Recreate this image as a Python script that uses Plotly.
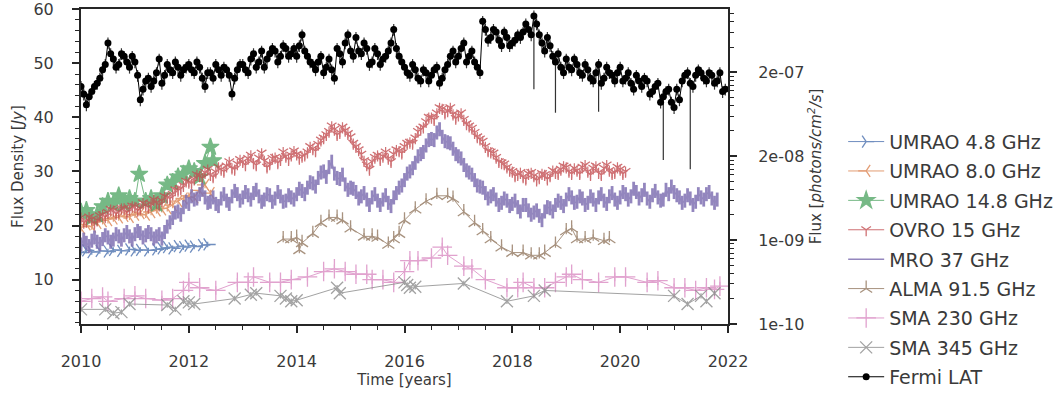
import numpy as np
import plotly.graph_objects as go

# ---------------- data ----------------
# UMRAO 4.8 GHz
umrao48_t = [2010.0, 2010.1, 2010.2, 2010.35, 2010.5, 2010.6, 2010.75, 2010.9, 2011.0, 2011.1,
             2011.25, 2011.4, 2011.5, 2011.6, 2011.7, 2011.8, 2011.9, 2012.0, 2012.1, 2012.25, 2012.35]
umrao48_f = [15.0, 15.4, 15.1, 15.3, 15.2, 15.5, 15.3, 15.6, 15.4, 15.5,
             15.4, 15.6, 15.8, 16.0, 15.8, 16.2, 16.0, 16.3, 16.1, 16.4, 16.5]

# UMRAO 8.0 GHz
umrao80_t = [2010.0, 2010.1, 2010.2, 2010.3, 2010.4, 2010.5, 2010.6, 2010.7, 2010.8, 2010.9,
             2011.0, 2011.1, 2011.2, 2011.3, 2011.4, 2011.5, 2011.6, 2011.7, 2011.8, 2011.9,
             2012.0, 2012.1, 2012.2, 2012.3, 2012.4]
umrao80_f = [19.5, 20.2, 19.8, 20.5, 20.8, 21.0, 21.3, 21.5, 21.8, 21.6,
             22.0, 22.3, 22.0, 22.5, 22.8, 23.0, 23.2, 23.8, 24.5, 25.0,
             25.5, 25.2, 26.5, 27.5, 26.0]

# UMRAO 14.8 GHz
umrao148_t = [2010.0, 2010.1, 2010.2, 2010.3, 2010.4, 2010.5, 2010.6, 2010.7, 2010.8, 2010.9,
              2011.0, 2011.08, 2011.2, 2011.3, 2011.4, 2011.5, 2011.6, 2011.7, 2011.8, 2011.9,
              2012.0, 2012.1, 2012.2, 2012.3, 2012.4, 2012.45]
umrao148_f = [22.5, 22.8, 21.5, 22.0, 23.5, 24.5, 24.0, 25.5, 24.0, 25.0,
              24.5, 29.5, 24.5, 25.0, 24.0, 25.5, 27.5, 28.0, 29.0, 29.5,
              30.5, 30.0, 29.0, 31.5, 34.5, 32.0]

# OVRO 15 GHz: values every 0.1 yr from 2010.0, and the in-between readings (2010.05, 2010.15, ...)
ovro_start = 2010.0
ovro_f = [21.5, 20.8, 21.2, 21.0, 22.0, 22.4, 22.8, 22.5, 23.2, 23.0,
          23.5, 23.2, 23.8, 24.0, 24.2, 24.6, 25.2, 25.8, 26.5, 27.4,
          28.0, 28.6, 29.2, 29.8, 29.4, 29.9, 30.4, 31.0, 30.6, 31.4,
          31.8, 32.4, 31.6, 32.5, 32.0, 31.4, 32.6, 32.2, 32.8, 33.0,
          33.2, 32.8, 33.6, 34.2, 35.0, 36.2, 37.4, 37.8, 37.2, 37.6,
          36.4, 34.6, 33.2, 31.2, 31.8, 33.0, 32.8, 32.4, 33.2, 33.8,
          34.6, 35.4, 36.2, 37.8, 39.2, 40.0, 40.8, 41.6, 41.2, 40.6,
          40.4, 39.6, 38.4, 37.2, 36.0, 34.6, 33.6, 32.6, 31.6, 30.8,
          30.0, 29.4, 29.0, 29.6, 29.2, 28.8, 29.4, 29.2, 29.8, 30.4,
          30.8, 29.6, 30.2, 30.8, 30.0, 30.6, 29.8, 30.6, 30.2, 29.8,
          30.4, 30.0]
ovro_f_mid = [20.6, 21.6, 20.4, 21.8, 21.6, 23.0, 22.2, 23.2, 22.4, 23.6,
              22.8, 24.2, 23.4, 24.8, 23.8, 25.4, 25.0, 26.6, 26.8, 28.2,
              27.8, 29.4, 28.8, 30.4, 29.0, 30.8, 30.0, 31.8, 30.4, 32.2,
              31.2, 33.0, 31.2, 33.4, 30.8, 32.4, 31.6, 33.6, 32.2, 33.8,
              32.4, 33.0, 34.6, 33.8, 35.8, 36.8, 38.4, 36.8, 38.2, 37.0,
              35.2, 34.0, 32.0, 30.4, 32.6, 32.2, 33.6, 31.8, 34.0, 33.4,
              35.2, 35.2, 37.4, 38.2, 40.0, 39.6, 41.8, 40.8, 41.8, 39.8,
              40.8, 38.8, 38.0, 36.4, 35.6, 33.8, 33.4, 31.8, 31.4, 30.2,
              29.2, 29.8, 28.6, 29.8, 28.4, 29.6, 28.6, 30.2, 29.6, 31.0,
              30.0, 30.6, 29.6, 31.2, 29.4, 31.0, 29.4, 31.2, 29.6, 30.8,
              29.6]

# MRO 37 GHz: every 0.1 yr from 2010.0, plus in-between readings
mro_start = 2010.0
mro_f = [16.5, 16.8, 17.2, 17.0, 17.5, 17.8, 17.4, 18.0, 18.2, 18.0,
         18.4, 18.6, 18.2, 18.4, 18.0, 17.6, 19.8, 21.4, 22.6, 23.4,
         24.0, 24.8, 25.8, 25.2, 24.4, 24.0, 25.0, 24.6, 25.4, 25.8,
         25.2, 25.6, 26.0, 25.4, 24.8, 25.6, 25.0, 25.4, 24.6, 25.2,
         25.8, 26.4, 27.0, 27.8, 28.8, 30.0, 30.8, 29.6, 28.6, 27.6,
         27.0, 26.2, 25.4, 24.8, 25.2, 24.6, 24.8, 24.2, 25.2, 27.0,
         28.4, 30.0, 31.6, 33.2, 34.8, 36.0, 37.2, 36.4, 35.4, 34.2,
         32.8, 31.2, 29.8, 28.4, 27.2, 26.0, 25.4, 24.8, 24.2, 24.6,
         24.0, 23.4, 23.8, 22.8, 22.4, 21.8, 22.6, 23.2, 23.8, 24.2,
         24.8, 25.2, 24.4, 25.0, 24.2, 24.8, 25.2, 24.6, 25.4, 24.8,
         25.2, 25.8, 25.4, 26.2, 25.6, 25.0, 25.6, 25.2, 24.8, 25.8,
         26.2, 25.2, 24.6, 25.0, 24.4, 25.2, 25.8, 25.0, 24.8]
mro_f_mid = [17.4, 16.2, 17.8, 16.6, 18.2, 17.0, 18.4, 17.4, 18.8, 17.4,
             19.0, 17.8, 18.8, 17.6, 18.4, 18.8, 20.6, 22.4, 22.0, 24.4,
             25.4, 25.0, 26.6, 24.2, 25.2, 23.6, 25.8, 24.0, 26.4, 24.6,
             26.2, 24.8, 26.6, 24.4, 25.8, 24.4, 26.2, 24.4, 25.6, 24.8,
             26.8, 25.8, 28.0, 27.2, 29.8, 29.0, 31.8, 28.8, 29.4, 26.6,
             26.8, 25.0, 26.0, 23.8, 25.8, 23.8, 25.6, 23.6, 26.0, 27.4,
             29.6, 30.6, 32.8, 33.6, 35.8, 35.8, 37.8, 35.6, 35.2, 33.2,
             32.4, 30.2, 29.4, 27.4, 27.0, 25.0, 25.8, 23.8, 25.0, 23.6,
             24.6, 22.6, 23.8, 22.0, 22.8, 21.0, 23.4, 22.6, 24.6, 23.6,
             25.8, 24.2, 25.4, 23.8, 25.4, 23.8, 25.8, 24.0, 26.0, 24.2,
             26.2, 24.8, 26.8, 25.0, 26.6, 24.4, 26.4, 24.6, 26.6, 27.2,
             25.6, 24.2, 25.6, 23.8, 25.8, 24.8, 26.2, 24.2]

# ALMA 91.5 GHz
alma_t = [2013.75, 2013.9, 2014.0, 2014.05, 2014.1, 2014.3, 2014.45, 2014.6, 2014.75, 2014.85,
          2015.0, 2015.25, 2015.4, 2015.5, 2015.7, 2015.8, 2015.9, 2016.0, 2016.2, 2016.4,
          2016.6, 2016.8, 2016.9, 2017.1, 2017.3, 2017.45, 2017.6, 2017.8, 2018.0, 2018.2,
          2018.35, 2018.5, 2018.6, 2018.8, 2019.0, 2019.1, 2019.2, 2019.35, 2019.5, 2019.7, 2019.8]
alma_f = [17.5, 17.5, 17.8, 15.5, 16.8, 18.5, 20.5, 21.5, 21.5, 21.0,
          19.5, 18.0, 18.0, 17.8, 16.5, 17.5, 18.5, 21.0, 23.0, 24.5,
          25.5, 25.5, 25.0, 22.5, 20.5, 19.0, 17.5, 16.0, 15.0, 15.0,
          14.5, 14.5, 15.0, 16.5, 19.0, 19.5, 17.5, 17.5, 17.8, 17.2, 17.5]

# SMA 230 GHz
sma230_t = [2010.0, 2010.2, 2010.4, 2010.5, 2010.8, 2011.0, 2011.2, 2011.5, 2011.7, 2011.9,
            2012.0, 2012.2, 2012.5, 2012.9, 2013.1, 2013.2, 2013.5, 2013.7, 2013.9, 2014.2,
            2014.5, 2014.7, 2014.9, 2015.1, 2015.3, 2015.4, 2015.6, 2015.8, 2016.0, 2016.1,
            2016.25, 2016.5, 2016.7, 2016.8, 2017.1, 2017.25, 2017.5, 2017.9, 2018.1, 2018.2,
            2018.4, 2018.6, 2018.8, 2019.0, 2019.1, 2019.3, 2019.6, 2019.9, 2020.1, 2020.5,
            2020.7, 2021.0, 2021.2, 2021.4, 2021.6, 2021.75, 2021.85]
sma230_f = [6.0, 6.5, 6.8, 6.0, 6.5, 7.0, 6.5, 6.2, 6.5, 8.0,
            9.5, 8.5, 8.0, 9.5, 9.5, 10.5, 9.5, 9.5, 10.0, 10.5,
            11.5, 12.0, 11.5, 11.0, 11.0, 10.0, 10.0, 9.5, 11.5, 13.5,
            13.5, 14.0, 16.0, 14.5, 12.5, 12.0, 10.0, 8.5, 8.5, 9.5,
            8.5, 8.5, 9.5, 10.5, 11.0, 10.0, 9.5, 10.5, 10.5, 9.5,
            9.8, 8.5, 8.5, 8.0, 8.5, 8.2, 8.8]

# SMA 345 GHz
sma345_t = [2010.0, 2010.45, 2010.6, 2010.75, 2010.9, 2011.6, 2011.75, 2011.9, 2012.0, 2012.1,
            2012.85, 2013.15, 2013.25, 2013.7, 2013.8, 2013.9, 2014.0, 2014.75, 2014.8, 2016.0,
            2016.05, 2016.1, 2016.2, 2017.1, 2017.9, 2018.4, 2018.6, 2021.0, 2021.25, 2021.5,
            2021.6, 2021.75]
sma345_f = [4.5, 4.5, 3.8, 4.0, 5.5, 5.3, 4.5, 6.0, 5.8, 5.5,
            6.5, 7.2, 7.5, 7.0, 6.5, 6.0, 6.2, 8.5, 7.5, 9.5,
            9.0, 8.5, 8.7, 9.3, 6.0, 7.0, 8.0, 7.0, 5.5, 7.0,
            6.0, 7.5]

# Fermi LAT flux, units of 1e-7 photons/cm^2/s, every 0.1 yr from 2010.0, plus in-between readings
fermi_start = 2010.0
fermi_flux_e7 = [0.68, 0.41, 0.59, 0.74, 1.07, 2.24, 1.44, 1.24, 1.55, 1.15,
                 1.33, 0.47, 0.79, 0.68, 0.99, 0.74, 1.24, 0.99, 1.15, 1.07,
                 1.24, 0.99, 1.15, 0.68, 0.99, 1.24, 0.92, 1.07, 0.55, 1.07,
                 1.24, 0.99, 1.67, 1.33, 1.15, 1.67, 1.79, 1.55, 1.93, 1.67,
                 1.55, 2.80, 1.55, 1.24, 1.33, 0.99, 1.44, 0.85, 1.67, 2.24,
                 1.79, 2.60, 1.67, 1.93, 1.33, 1.67, 1.44, 1.79, 3.25, 1.55,
                 1.15, 0.92, 1.07, 0.79, 0.99, 0.92, 1.15, 0.85, 1.24, 1.79,
                 1.55, 2.24, 1.55, 1.33, 0.99, 3.25, 2.60, 3.02, 2.08, 2.60,
                 2.24, 2.80, 3.02, 3.25, 4.71, 2.80, 1.79, 2.08, 1.33, 1.15,
                 1.44, 1.07, 1.24, 0.92, 1.07, 0.79, 1.24, 0.85, 0.99, 0.79,
                 1.15, 0.85, 0.74, 0.92, 0.68, 0.79, 0.59, 0.74, 0.51, 0.63,
                 0.38, 0.47, 0.92, 0.74, 0.92, 0.99, 0.79, 0.92, 0.79, 0.59]
fermi_flux_e7_mid = [0.55, 0.51, 0.68, 0.85, 1.24, 1.67, 1.15, 1.67, 1.33, 1.55,
                     0.92, 0.63, 0.85, 0.79, 1.44, 0.92, 1.07, 1.33, 0.92, 1.15,
                     1.07, 1.33, 0.85, 0.99, 0.85, 1.07, 1.15, 0.92, 0.85, 1.24,
                     1.07, 1.44, 1.15, 1.79, 1.44, 1.93, 1.33, 2.08, 1.55, 1.93,
                     2.08, 1.79, 1.33, 1.07, 1.55, 1.15, 1.07, 1.93, 1.33, 2.80,
                     1.55, 1.79, 2.24, 1.24, 1.93, 1.24, 1.55, 2.24, 1.93, 1.33,
                     0.99, 1.24, 0.85, 1.07, 0.79, 1.07, 0.74, 1.07, 1.55, 1.33,
                     1.93, 1.33, 1.79, 1.15, 4.06, 2.41, 3.25, 2.41, 3.02, 2.08,
                     2.41, 2.60, 3.77, 2.80, 3.77, 2.24, 2.60, 1.55, 1.67, 0.99,
                     1.15, 1.44, 0.99, 1.24, 0.85, 0.99, 0.74, 1.15, 0.92, 0.99,
                     0.79, 0.99, 0.63, 0.79, 0.85, 0.55, 0.68, 0.44, 0.59, 0.44,
                     0.63, 0.79, 0.99, 0.68, 1.07, 0.85, 0.99, 0.74, 0.99, 0.63]
fermi_rel_err = 0.16
fermi_long_err_minus = {84: 4.08, 88: 1.0, 96: 0.9, 108: 0.42, 113: 0.67}

left_tickvals = [10, 20, 30, 40, 50, 60]
right_tickvals = [1e-10, 1e-9, 1e-8, 1e-7]
right_ticktext = ["1e-10", "1e-09", "2e-08", "2e-07"]

# ---------------- figure ----------------
ink = "#262626"
txt = "#3a3a3a"
font_family = "DejaVu Sans"


def merged(start, main, mid):
    t_main = np.round(start + 0.1 * np.arange(len(main)), 3)
    t_mid = np.round(start + 0.05 + 0.1 * np.arange(len(mid)), 3)
    t = np.concatenate([t_main, t_mid])
    f = np.concatenate([np.asarray(main, float), np.asarray(mid, float)])
    order = np.argsort(t, kind="stable")
    return t[order], f[order]


ovro_t, ovro_v = merged(ovro_start, ovro_f, ovro_f_mid)
mro_t, mro_v = merged(mro_start, mro_f, mro_f_mid)

fermi_main = np.array(fermi_flux_e7) * 1e-7
fermi_minus_main = fermi_main * fermi_rel_err
for i, v in fermi_long_err_minus.items():
    fermi_minus_main[i] = v * 1e-7
fermi_mid = np.array(fermi_flux_e7_mid) * 1e-7
fermi_t_main = np.round(fermi_start + 0.1 * np.arange(len(fermi_main)), 3)
fermi_t_mid = np.round(fermi_start + 0.05 + 0.1 * np.arange(len(fermi_mid)), 3)
fermi_t = np.concatenate([fermi_t_main, fermi_t_mid])
fermi_v = np.concatenate([fermi_main, fermi_mid])
fermi_minus = np.concatenate([fermi_minus_main, fermi_mid * fermi_rel_err])
order = np.argsort(fermi_t, kind="stable")
fermi_t, fermi_v, fermi_minus = fermi_t[order], fermi_v[order], fermi_minus[order]
fermi_plus = fermi_v * fermi_rel_err

fig = go.Figure()


def radio(name, t, f, color, symbol, size, err, opacity=0.8, lw=1.0):
    fig.add_trace(go.Scatter(
        x=t, y=f, name=name, legendgroup=name, mode="lines+markers", opacity=opacity,
        line=dict(color=color, width=lw),
        marker=dict(symbol=symbol, size=size, color=color,
                    line=dict(color=color, width=1.3)),
        error_y=dict(type="constant", value=err, color=color, thickness=1.2, width=0),
    ))


radio("UMRAO 4.8 GHz", umrao48_t, umrao48_f, "#4c72b0", "y-right", 10, 0.5)
radio("UMRAO 8.0 GHz", umrao80_t, umrao80_f, "#dd8452", "y-left", 10, 0.6)
radio("UMRAO 14.8 GHz", umrao148_t, umrao148_f, "#55a868", "star", 13, 0.6)
radio("OVRO 15 GHz", ovro_t, ovro_v, "#c44e52", "y-down", 8, 0.9)
fig.add_trace(go.Scatter(
    x=mro_t, y=mro_v, name="MRO 37 GHz", legendgroup="MRO 37 GHz", mode="lines", opacity=0.85,
    line=dict(color="#8172b3", width=1.5),
    error_y=dict(type="constant", value=1.3, color="#8172b3", thickness=2.8, width=0),
))
radio("ALMA 91.5 GHz", alma_t, alma_f, "#937860", "y-up", 10, 0.6)
radio("SMA 230 GHz", sma230_t, sma230_f, "#da8bc3", "cross-thin", 14, 0.8)
radio("SMA 345 GHz", sma345_t, sma345_f, "#8c8c8c", "x-thin", 12, 0.5)

fig.add_trace(go.Scatter(
    x=fermi_t, y=fermi_v, name="Fermi LAT", legendgroup="Fermi LAT", mode="lines+markers", yaxis="y2",
    line=dict(color="black", width=1),
    marker=dict(symbol="circle", size=7, color="black"),
    error_y=dict(type="data", symmetric=False, array=fermi_plus, arrayminus=fermi_minus,
                 color="#333333", thickness=1.2, width=0),
))

minor_right = [m * 10.0 ** e for e in range(-10, -6) for m in range(2, 10)]

fig.update_layout(
    width=1063, height=394,
    margin=dict(l=81, r=335, t=9, b=70, autoexpand=False),
    paper_bgcolor="white", plot_bgcolor="white",
    font=dict(family=font_family, color=txt, size=16),
    showlegend=True,
    legend=dict(x=1.178, xanchor="left", y=0.639, yanchor="top",
                font=dict(size=19, color=txt), bgcolor="rgba(0,0,0,0)",
                itemwidth=36, tracegroupgap=1.7),
    xaxis=dict(range=[2010, 2022], tickvals=list(range(2010, 2023, 2)), automargin=False,
               ticks="outside", ticklen=7, tickwidth=1.5, tickcolor=ink,
               ticklabelstandoff=15, ticklabeloverflow="allow",
               minor=dict(dtick=0.5, tick0=2010, ticks="outside", ticklen=4, tickwidth=1.2, tickcolor=ink),
               showline=True, linewidth=2, linecolor=ink, mirror=True,
               showgrid=False, zeroline=False,
               title=dict(text="Time [years]", font=dict(size=15, color=txt), standoff=4),
               tickfont=dict(size=16, color=txt)),
    yaxis=dict(range=[1.8, 60.03], tickmode="array", tickvals=left_tickvals, automargin=False,
               ticks="outside", ticklen=7, tickwidth=1.5, tickcolor=ink,
               ticklabelstandoff=15, ticklabeloverflow="allow",
               minor=dict(dtick=2, tick0=0, ticks="outside", ticklen=4, tickwidth=1.2, tickcolor=ink),
               showline=True, linewidth=2, linecolor=ink, mirror=True,
               showgrid=False, zeroline=False,
               title=dict(text="Flux Density [<i>Jy</i>]", font=dict(size=15, color=txt), standoff=6),
               tickfont=dict(size=16, color=txt)),
    yaxis2=dict(type="log", range=[-10, -6.245], overlaying="y", side="right", automargin=False,
                tickmode="array", tickvals=right_tickvals, ticktext=right_ticktext,
                ticks="outside", ticklen=7, tickwidth=1.5, tickcolor=ink,
                ticklabelstandoff=18, ticklabeloverflow="allow",
                minor=dict(tickmode="array", tickvals=minor_right, ticks="outside",
                           ticklen=4, tickwidth=1.2, tickcolor=ink),
                showline=True, linewidth=2, linecolor=ink,
                showgrid=False, zeroline=False,
                title=dict(text="Flux [<i>photons/cm<sup>2</sup>/s</i>]", font=dict(size=15, color=txt), standoff=7),
                tickfont=dict(size=16, color=txt)),
)

fig.write_html("out.html")
